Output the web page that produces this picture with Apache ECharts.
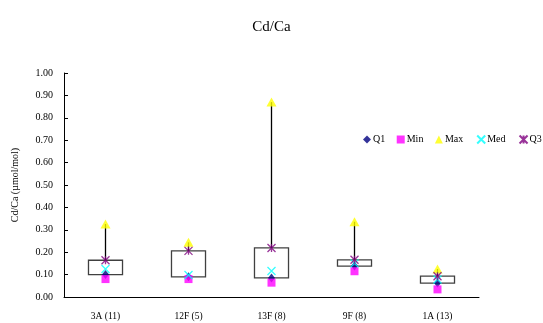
<!DOCTYPE html>
<html><head><meta charset="utf-8">
<script src="https://cdn.jsdelivr.net/npm/echarts@6/dist/echarts.min.js"></script>
<style>html,body{margin:0;padding:0;background:#fff}#c{width:543px;height:323px}</style>
</head><body><div id="c"></div>
<script>
var categories = ['3A (11)', '12F (5)', '13F (8)', '9F (8)', '1A (13)'];
var q1Values  = [0.100, 0.090, 0.085, 0.138, 0.062];
var minValues = [0.080, 0.080, 0.064, 0.115, 0.034];
var maxValues = [0.326, 0.244, 0.870, 0.336, 0.125];
var medValues = [0.125, 0.098, 0.116, 0.150, 0.078];
var q3Values  = [0.164, 0.206, 0.219, 0.166, 0.093];
var yTicks = [0, 0.1, 0.2, 0.3, 0.4, 0.5, 0.6, 0.7, 0.8, 0.9, 1.0];

var font = 'Liberation Serif';
var boxData = categories.map(function (c, i) { return [i, q1Values[i], q3Values[i], maxValues[i]]; });

function renderBox(params, api) {
  var x = api.value(0);
  var pQ1 = api.coord([x, api.value(1)]);
  var pQ3 = api.coord([x, api.value(2)]);
  var pMax = api.coord([x, api.value(3)]);
  var w = api.size([1, 0])[0] * 0.41;
  return {
    type: 'group',
    children: [
      { type: 'rect', shape: { x: pQ1[0] - w / 2, y: pQ3[1], width: w, height: pQ1[1] - pQ3[1] },
        style: { fill: '#fff', stroke: '#404040', lineWidth: 1.3 } },
      { type: 'line', shape: { x1: pQ3[0], y1: pQ3[1], x2: pMax[0], y2: pMax[1] },
        style: { stroke: '#000', lineWidth: 1.3 } }
    ]
  };
}

function pts(arr) { return arr.map(function (v, i) { return [i, v]; }); }

var chart = echarts.init(document.getElementById('c'), null, { renderer: 'canvas' });
chart.setOption({
  animation: false,
  backgroundColor: '#fff',
  title: { text: 'Cd/Ca', left: 'center', top: 15,
    textStyle: { fontFamily: font, fontSize: 15, fontWeight: 'normal', color: '#000' } },
  legend: {
    left: 363, top: 133, width: 240, padding: 0, itemWidth: 8, itemHeight: 8, itemGap: 11.5,
    textStyle: { fontFamily: font, fontSize: 10, color: '#000', padding: [0, 0, 0, -3] },
    data: ['Q1', 'Min', 'Max', 'Med', 'Q3']
  },
  grid: { left: 64, right: 64, top: 73, bottom: 26, containLabel: false, outerBoundsMode: 'none' },
  xAxis: {
    type: 'category', data: categories, boundaryGap: true,
    axisLine: { lineStyle: { color: '#000', width: 1 } },
    axisTick: { inside: true, length: 4, lineStyle: { color: '#000' } },
    axisLabel: { fontFamily: font, fontSize: 9.5, color: '#000', margin: 14 },
    splitLine: { show: false }
  },
  yAxis: {
    type: 'value', min: 0, max: 1, interval: 0.1,
    name: 'Cd/Ca (\u00b5mol/mol)', nameLocation: 'middle', nameGap: 44, nameRotate: 90,
    nameTextStyle: { fontFamily: font, fontSize: 10, color: '#000' },
    axisLine: { show: true, lineStyle: { color: '#000', width: 1 } },
    axisTick: { show: true, inside: true, length: 4, lineStyle: { color: '#000' } },
    axisLabel: { fontFamily: font, fontSize: 10, color: '#000', margin: 11,
      formatter: function (v) { return v.toFixed(2); } },
    splitLine: { show: false }
  },
  series: [
    { type: 'custom', name: 'box', renderItem: renderBox, data: boxData, z: 1,
      encode: { x: 0, y: [1, 2, 3] } },
    { type: 'scatter', name: 'Q1', data: pts(q1Values), symbol: 'diamond', symbolSize: [7, 9],
      itemStyle: { color: '#000080' }, z: 3 },
    { type: 'scatter', name: 'Min', data: pts(minValues), symbol: 'rect', symbolSize: 8,
      itemStyle: { color: '#ff00ff' }, z: 3 },
    { type: 'scatter', name: 'Max', data: pts(maxValues), symbol: 'triangle', symbolSize: [10, 9],
      itemStyle: { color: '#ffff00' }, z: 3 },
    { type: 'scatter', name: 'Med', data: pts(medValues), symbol: 'path://M0,0L10,10M10,0L0,10', symbolSize: 8,
      itemStyle: { color: 'none', borderColor: '#00ffff', borderWidth: 1.3 }, z: 3 },
    { type: 'scatter', name: 'Q3', data: pts(q3Values), symbol: 'path://M0,0L10,10M10,0L0,10M5,0L5,10', symbolSize: 8,
      itemStyle: { color: 'none', borderColor: '#800080', borderWidth: 1.3 }, z: 3 }
  ]
});
</script>
</body></html>
